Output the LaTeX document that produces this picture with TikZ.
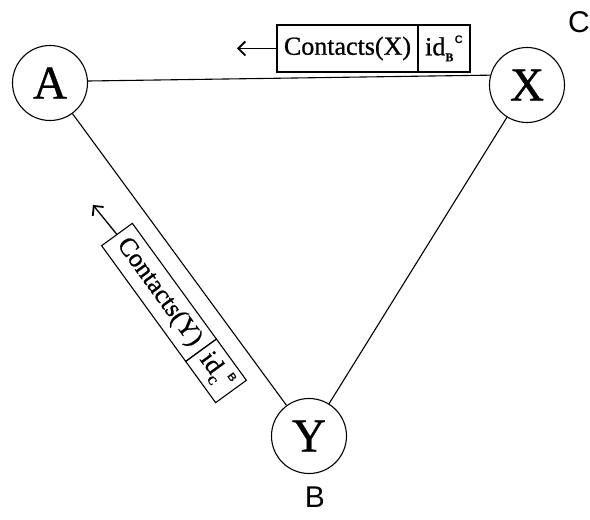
\documentclass[tikz,border=0pt]{standalone}
\usepackage{fontspec}
\setmainfont{Liberation Serif}
\setsansfont{Liberation Sans}
\newfontfamily\heavyserif[FakeBold=0.8]{Liberation Serif}
\usetikzlibrary{arrows.meta}
% identifier with a subscript and a superscript letter
\newcommand\idmark[2]{id\raisebox{-6pt}{\fontsize{12}{12}\selectfont\bfseries #1}\hspace{1.5pt}\raisebox{12pt}{\sffamily\bfseries\fontsize{11}{11}\selectfont #2}}
\begin{document}
\begin{tikzpicture}[x=1pt,y=1pt,
  peer/.style={circle,draw,line width=1.1pt,minimum size=75pt,inner sep=0pt,
    font=\heavyserif\fontsize{47}{47}\selectfont},
  field/.style={draw,line width=1.1pt,inner sep=0pt,outer sep=0pt,
    font=\heavyserif\fontsize{26}{26}\selectfont},
  link/.style={line width=1.1pt},
  push/.style={line width=1.3pt,-{Straight Barb[length=7pt,width=14pt,line width=1.8pt]}},
  tag/.style={font=\sffamily\fontsize{30}{30}\selectfont}]
\useasboundingbox (0,0) rectangle (590,520);

% peers
\node[peer] (A) at (50,437) {A};
\node[peer] (X) at (527,435) {X};
\node[peer] (Y) at (309,84) {Y};

% links
\draw[link] (A.3) -- (X.165);
\draw[link] (A) -- (Y);
\draw[link] (X) -- (Y);

% message sent from X to A
\node[field,minimum width=141pt,minimum height=47pt] (m1a) at (347.5,471.5) {Contacts(X)};
\node[field,minimum width=52pt,minimum height=47pt] (m1b) at (444,471.5) {\idmark{B}{C}};
\coordinate (t1) at (237,471.5);
\draw[push] (m1a.west) -- (t1);

% message sent from Y to A
\begin{scope}[shift={(174,207)},rotate=-54,transform shape]
  \node[field,minimum width=143pt,minimum height=38pt] (m2a) at (-25.5,0) {Contacts(Y)};
  \node[field,minimum width=51pt,minimum height=38pt] (m2b) at (71.5,0) {\idmark{C}{B}};
\end{scope}
\coordinate (t2) at (93,315);
\draw[push] (m2a.west) -- (t2);

% host labels
\node[tag] (lc) at (579,498) {C};
\node[tag] (lb) at (315,23) {B};
\end{tikzpicture}
\end{document}
